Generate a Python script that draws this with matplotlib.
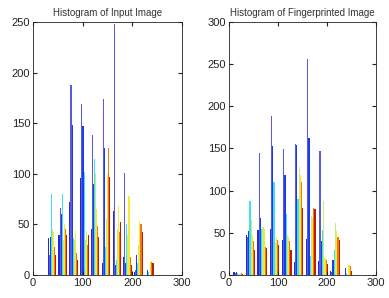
import numpy as np
import matplotlib
matplotlib.use("Agg")
import matplotlib.pyplot as plt

plt.rcParams["font.family"] = ["Liberation Sans", "DejaVu Sans"]

# bin centres (x) for each histogram
input_bins = [38, 60, 82, 104, 125, 147, 169, 190, 212, 234]
finger_bins = [19, 44, 68, 93, 118, 142, 167, 192, 216, 241]

# counts per bin, one row per bin, one column per image column group (blue -> red)
input_counts = [
    [37, 20, 38, 80, 45, 42, 28, 20],
    [40, 66, 60, 80, 35, 50, 45, 40],
    [72, 188, 148, 37, 35, 43, 22, 15],
    [96, 169, 147, 102, 35, 43, 30, 40],
    [45, 138, 90, 115, 101, 65, 48, 38],
    [12, 174, 125, 28, 55, 100, 125, 97],
    [63, 248, 10, 15, 45, 68, 42, 52],
    [18, 101, 12, 50, 40, 78, 18, 10],
    [3, 5, 20, 12, 30, 53, 50, 42],
    [0, 0, 5, 3, 0, 14, 13, 12],
]
finger_counts = [
    [3, 2, 3, 2, 1, 1, 2, 1],
    [48, 45, 52, 88, 65, 48, 40, 30],
    [53, 145, 68, 55, 57, 55, 33, 32],
    [55, 189, 153, 110, 38, 45, 42, 36],
    [41, 149, 118, 72, 47, 45, 40, 30],
    [15, 155, 154, 90, 128, 118, 110, 80],
    [43, 256, 163, 22, 70, 68, 80, 78],
    [17, 147, 40, 53, 88, 20, 18, 13],
    [5, 3, 18, 30, 62, 52, 45, 42],
    [0, 0, 8, 2, 0, 12, 11, 5],
]

colors = ["#2a2ad0", "#5a5ae0", "#1a3cf0", "#40e0f0",
          "#c8f070", "#f8e830", "#f07a10", "#c41a08"]


def draw(ax, centres, counts, ymax, title):
    centres = np.asarray(centres, dtype=float)
    counts = np.asarray(counts, dtype=float)
    step = np.diff(centres).mean()
    n = counts.shape[1]
    w = 0.8 * step / n
    for j in range(n):
        x = centres - 0.4 * step + (j + 0.5) * w
        ax.bar(x, counts[:, j], width=w, color=colors[j], linewidth=0)
    ax.set_xlim(0, 300)
    ax.set_ylim(0, ymax)
    ax.set_xticks([0, 100, 200, 300])
    ax.set_yticks(np.arange(0, ymax + 1, 50))
    ax.tick_params(direction="in", labelsize=8, colors="#222222", length=3,
                   top=True, right=True, labeltop=False, labelright=False, pad=2)
    for s in ax.spines.values():
        s.set_linewidth(0.6)
        s.set_color("#222222")
    ax.set_title(title, fontsize=7, color="#333333", pad=4)


fig = plt.figure(figsize=(3.89, 2.98), dpi=100)
ax1 = fig.add_axes([0.0848, 0.0772, 0.383, 0.849])
ax2 = fig.add_axes([0.5887, 0.0772, 0.378, 0.849])
draw(ax1, input_bins, input_counts, 250, "Histogram of Input Image")
draw(ax2, finger_bins, finger_counts, 300, "Histogram of Fingerprinted Image")
fig.savefig("out.png", dpi=100)
